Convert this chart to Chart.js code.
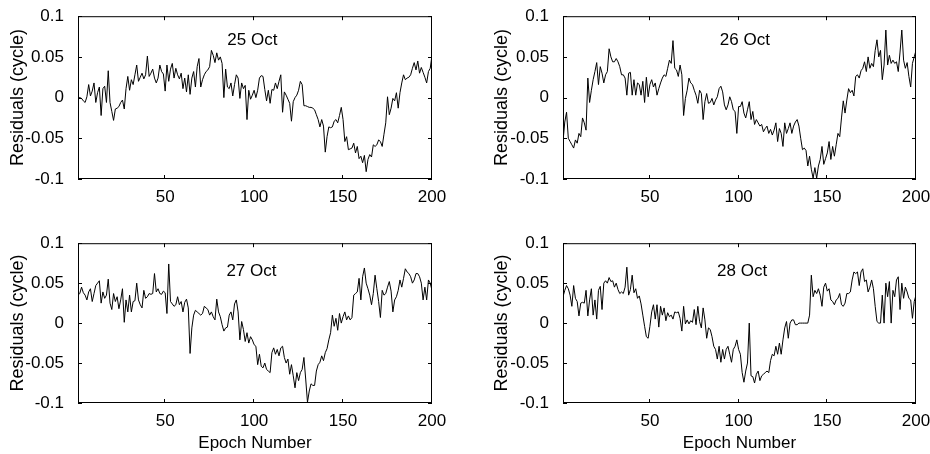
<!DOCTYPE html>
<html>
<head>
<meta charset="utf-8">
<script src="https://cdn.jsdelivr.net/npm/chart.js@4.4.1/dist/chart.umd.min.js"></script>
<style>
  html, body { margin: 0; padding: 0; background: #fff; overflow: hidden; }
  body { width: 930px; height: 454px; position: relative; }
  canvas { position: absolute; }
</style>
</head>
<body>
<canvas id="c25" width="465" height="227" style="left:0px;top:0px"></canvas>
<canvas id="c26" width="480" height="227" style="left:465px;top:0px"></canvas>
<canvas id="c27" width="465" height="227" style="left:0px;top:227px"></canvas>
<canvas id="c28" width="480" height="227" style="left:465px;top:227px"></canvas>
<script>
const epochs = Array.from({length: 200}, (_, i) => i + 1);
const xTicks = [50, 100, 150, 200];
const yTicks = [-0.1, -0.05, 0, 0.05, 0.1];

// residuals, one value per epoch
const oct25 = [
  0.001, 0.0, -0.001, -0.004, -0.006, 0.001, 0.016, 0.002, 0.008, 0.018,
  -0.006, 0.006, 0.013, -0.022, 0.011, 0.014, -0.006, 0.033, -0.006, -0.017,
  -0.028, -0.014, -0.013, -0.011, -0.006, -0.003, -0.014, 0.011, 0.026, 0.009,
  0.022, 0.016, 0.028, 0.04, 0.02, 0.025, 0.03, 0.023, 0.028, 0.051,
  0.026, 0.03, 0.035, 0.024, 0.018, 0.024, 0.04, 0.032, 0.029, 0.008,
  0.04, 0.02, 0.035, 0.042, 0.024, 0.036, 0.028, 0.023, 0.03, 0.011,
  0.024, 0.007, 0.028, 0.004, 0.024, 0.032, 0.013, 0.038, 0.048, 0.013,
  0.022, 0.028, 0.032, 0.034, 0.038, 0.058, 0.052, 0.043, 0.055, 0.046,
  0.05, 0.042, 0.0, 0.035, 0.013, 0.011, 0.018, 0.002, 0.016, 0.028,
  0.024, -0.001, 0.018, 0.011, 0.015, -0.027, 0.009, -0.002, 0.003, 0.009,
  0.0, 0.009, 0.024, 0.027, 0.026, 0.01, -0.004, 0.009, -0.007, 0.01,
  0.009, 0.018, 0.011, 0.02, 0.028, -0.018, 0.007, 0.003, -0.002, -0.007,
  -0.029, -0.005, 0.0, 0.003, 0.009, 0.02, 0.016, -0.01, -0.01, -0.011,
  -0.012, -0.012, -0.013, -0.015, -0.021, -0.027, -0.036, -0.027, -0.035, -0.067,
  -0.048, -0.036, -0.037, -0.036, -0.029, -0.027, -0.031, -0.022, -0.012, -0.027,
  -0.054, -0.048, -0.064, -0.063, -0.062, -0.056, -0.068, -0.06, -0.075, -0.072,
  -0.08, -0.071, -0.091, -0.076, -0.07, -0.073, -0.058, -0.06, -0.058, -0.052,
  -0.054, -0.06, -0.045, -0.031, 0.001, -0.021, -0.013, -0.001, -0.004, 0.006,
  -0.013, 0.006, 0.018, 0.028, 0.022, 0.024, 0.025, 0.028, 0.036, 0.043,
  0.034, 0.045, 0.03, 0.037, 0.031, 0.025, 0.018, 0.032, 0.036, 0.052
];
const oct26 = [
  -0.054, -0.03, -0.018, -0.05, -0.054, -0.058, -0.062, -0.052, -0.056, -0.044,
  -0.048, -0.025, -0.031, -0.04, 0.024, -0.006, 0.009, 0.022, 0.032, 0.043,
  0.016, 0.038, 0.03, 0.018, 0.028, 0.032, 0.06, 0.05, 0.044, 0.044,
  0.048, 0.044, 0.038, 0.028, 0.028, 0.024, 0.003, 0.03, 0.031, 0.003,
  0.022, 0.003, 0.018, 0.016, 0.003, 0.02, -0.006, 0.025, 0.001, 0.016,
  0.022, 0.013, 0.018, 0.003, 0.011, 0.018, 0.024, 0.028, 0.026, 0.036,
  0.046, 0.042, 0.07, 0.036, 0.034, 0.026, 0.04, 0.028, -0.022, -0.001,
  0.009, 0.024, 0.018, 0.016, 0.009, 0.003, -0.007, 0.009, 0.005, -0.027,
  -0.005, 0.005, -0.007, -0.006, -0.001, -0.009, -0.003, 0.001, 0.011, 0.014,
  0.007, -0.009, -0.015, -0.009, 0.001, -0.005, -0.015, -0.017, -0.044, -0.011,
  -0.011, -0.005, -0.019, -0.025, -0.015, -0.005, -0.027, -0.017, -0.033, -0.027,
  -0.031, -0.035, -0.033, -0.042, -0.038, -0.035, -0.044, -0.039, -0.046, -0.04,
  -0.031, -0.054, -0.038, -0.044, -0.06, -0.031, -0.044, -0.038, -0.031, -0.044,
  -0.035, -0.03, -0.027, -0.035, -0.05, -0.064, -0.062, -0.065, -0.084, -0.072,
  -0.088, -0.099, -0.086, -0.099, -0.084, -0.076, -0.06, -0.082, -0.075, -0.068,
  -0.054, -0.076, -0.06, -0.072, -0.058, -0.044, -0.048, -0.025, -0.004, -0.019,
  -0.003, 0.011, 0.006, 0.009, 0.002, 0.026, 0.028, 0.024, 0.033, 0.036,
  0.044, 0.032, 0.05, 0.036, 0.042, 0.038, 0.058, 0.071, 0.05, 0.058,
  0.022, 0.04, 0.083, 0.04, 0.052, 0.042, 0.046, 0.042, 0.044, 0.032,
  0.056, 0.083, 0.046, 0.036, 0.043, 0.026, 0.013, 0.042, 0.05, 0.058
];
const oct27 = [
  0.035, 0.037, 0.045, 0.038, 0.035, 0.029, 0.039, 0.043, 0.027, 0.037,
  0.047, 0.05, 0.053, 0.025, 0.039, 0.031, 0.035, 0.055, 0.025, 0.017,
  0.037, 0.027, 0.033, 0.018, 0.029, 0.043, 0.001, 0.029, 0.014, 0.035,
  0.014, 0.027, 0.028, 0.05, 0.029, 0.023, 0.019, 0.041, 0.031, 0.033,
  0.037, 0.036, 0.037, 0.062, 0.039, 0.043, 0.037, 0.036, 0.04, 0.038,
  0.012, 0.074, 0.027, 0.024, 0.021, 0.023, 0.033, 0.023, 0.027, 0.014,
  0.026, 0.03, 0.019, -0.038, -0.006, 0.01, 0.016, 0.014, 0.012, 0.01,
  0.012, 0.021, 0.019, 0.017, 0.01, 0.014, 0.008, 0.004, 0.03, 0.014,
  0.008, -0.002, -0.01, -0.006, -0.005, 0.01, 0.014, 0.004, 0.024, 0.029,
  0.014, -0.021, 0.002, -0.008, -0.023, -0.012, -0.025, -0.017, -0.021, -0.027,
  -0.029, -0.052, -0.039, -0.054, -0.056, -0.05, -0.058, -0.06, -0.062, -0.037,
  -0.031, -0.039, -0.033, -0.041, -0.031, -0.029, -0.043, -0.05, -0.045, -0.064,
  -0.052, -0.066, -0.081, -0.062, -0.072, -0.062, -0.058, -0.043, -0.07, -0.099,
  -0.085, -0.076, -0.078, -0.078, -0.06, -0.052, -0.049, -0.041, -0.047, -0.037,
  -0.032, -0.021, -0.012, 0.01, -0.004, 0.006, -0.009, 0.012, 0.0, 0.008,
  0.014, 0.004, 0.009, 0.004, 0.007, 0.035, 0.037, 0.039, 0.056, 0.029,
  0.058, 0.069, 0.05, 0.043, 0.035, 0.023, 0.037, 0.06, 0.043, 0.027,
  0.007, 0.041, 0.035, 0.037, 0.045, 0.052, 0.04, 0.014, 0.029, 0.033,
  0.041, 0.054, 0.045, 0.056, 0.068, 0.064, 0.062, 0.058, 0.05, 0.054,
  0.062, 0.062, 0.058, 0.05, 0.029, 0.045, 0.029, 0.054, 0.05, 0.041
];
const oct28 = [
  0.033, 0.041, 0.047, 0.043, 0.035, 0.021, 0.047, 0.031, 0.027, 0.009,
  0.025, 0.026, 0.025, 0.041, 0.009, 0.029, 0.043, 0.01, 0.029, 0.005,
  0.041, 0.046, 0.017, 0.05, 0.053, 0.05, 0.057, 0.052, 0.053, 0.045,
  0.05, 0.042, 0.037, 0.039, 0.037, 0.045, 0.07, 0.035, 0.042, 0.06,
  0.038, 0.043, 0.031, 0.034, 0.024, 0.01, -0.004, -0.017, -0.019, -0.004,
  0.014, 0.023, 0.005, 0.023, -0.005, 0.021, 0.01, 0.019, 0.003, 0.013,
  0.008, 0.01, 0.005, 0.014, 0.013, 0.014, 0.006, -0.01, 0.021, -0.001,
  0.004, -0.001, 0.003, 0.001, 0.017, -0.002, 0.021, 0.002, -0.006, 0.019,
  0.004, -0.019, -0.006, -0.008, -0.017, -0.029, -0.033, -0.045, -0.029, -0.049,
  -0.033, -0.045, -0.033, -0.029, -0.039, -0.049, -0.033, -0.029, -0.021, -0.033,
  -0.039, -0.062, -0.074, -0.06, -0.05, 0.0, -0.066, -0.067, -0.075, -0.064,
  -0.06, -0.072, -0.066, -0.064, -0.062, -0.06, -0.062, -0.047, -0.039, -0.041,
  -0.029, -0.039, -0.025, -0.039, -0.021, -0.006, 0.002, -0.019, 0.0, 0.004,
  0.004, -0.002, -0.002, 0.0, 0.0, 0.0, 0.0, 0.0, 0.0, 0.01,
  0.06, 0.033, 0.041, 0.037, 0.043, 0.035, 0.021, 0.045, 0.05, 0.04,
  0.043, 0.029, 0.027, 0.023, 0.029, 0.031, 0.037, 0.023, 0.021, 0.025,
  0.037, 0.037, 0.039, 0.054, 0.064, 0.062, 0.064, 0.047, 0.064, 0.068,
  0.052, 0.054, 0.039, 0.045, 0.054, 0.043, 0.021, 0.002, 0.0, 0.0,
  0.035, 0.0, 0.05, 0.033, 0.052, 0.0, 0.041, 0.033, 0.054, 0.058,
  0.017, 0.05, 0.031, 0.045, 0.039, 0.031, 0.029, 0.006, 0.027, 0.035
];

Chart.defaults.font.family = '"Liberation Sans", Arial, Helvetica, sans-serif';
Chart.defaults.color = '#000';

// box round the plot, MATLAB style inward ticks, and the day label
const frame = {
  id: 'frame',
  afterDraw(chart, args, opts) {
    const {ctx, chartArea: a, scales: {x, y}} = chart;
    ctx.save();
    ctx.strokeStyle = '#000';
    ctx.lineWidth = 1;
    ctx.strokeRect(a.left + 0.5, a.top + 0.5, a.width - 1, a.height - 1);
    ctx.beginPath();
    xTicks.forEach(v => {
      const px = Math.round(x.getPixelForValue(v)) - 0.5;
      ctx.moveTo(px, a.bottom); ctx.lineTo(px, a.bottom - 4);
      ctx.moveTo(px, a.top); ctx.lineTo(px, a.top + 4);
    });
    yTicks.forEach(v => {
      const py = Math.round(y.getPixelForValue(v)) + 0.5;
      ctx.moveTo(a.left, py); ctx.lineTo(a.left + 4, py);
      ctx.moveTo(a.right, py); ctx.lineTo(a.right - 4, py);
    });
    ctx.stroke();
    ctx.fillStyle = '#000';
    ctx.font = '17px "Liberation Sans", Arial, sans-serif';
    ctx.textAlign = 'center';
    ctx.textBaseline = 'middle';
    ctx.fillText(opts.text, x.getPixelForValue(opts.at), a.top + opts.dy);
    ctx.restore();
  }
};

const panels = [
  {id: 'c25', text: '25 Oct', values: oct25, at: 99, dy: 24.5, axisW: 78, padR: 33, padT: 15, xH: 48, xTitle: false, yTitlePad: 7},
  {id: 'c26', text: '26 Oct', values: oct26, at: 103.5, dy: 24.5, axisW: 98, padR: 29, padT: 15, xH: 48, xTitle: false, yTitlePad: 26},
  {id: 'c27', text: '27 Oct', values: oct27, at: 98.5, dy: 28, axisW: 78, padR: 33, padT: 13, xH: 51, xTitle: true, yTitlePad: 7},
  {id: 'c28', text: '28 Oct', values: oct28, at: 102, dy: 28, axisW: 98, padR: 29, padT: 13, xH: 51, xTitle: true, yTitlePad: 26}
];

panels.forEach(p => {
  new Chart(document.getElementById(p.id), {
    type: 'line',
    data: {
      datasets: [{
        data: epochs.map((e, i) => ({x: e, y: p.values[i]})),
        borderColor: '#000',
        borderWidth: 1,
        pointRadius: 0,
        tension: 0,
        fill: false
      }]
    },
    options: {
      responsive: false,
      animation: false,
      devicePixelRatio: 1,
      layout: {padding: {top: p.padT, right: p.padR, left: 0, bottom: 0}},
      plugins: {
        legend: {display: false},
        tooltip: {enabled: false},
        frame: {text: p.text, at: p.at, dy: p.dy}
      },
      scales: {
        x: {
          type: 'linear',
          min: 1,
          max: 200,
          grid: {display: false},
          border: {display: false},
          afterBuildTicks: s => { s.ticks = xTicks.map(v => ({value: v})); },
          afterFit: s => { s.height = p.xH; },
          ticks: {font: {size: 17}, padding: 0, maxRotation: 0, callback: v => String(v)},
          title: {
            display: p.xTitle,
            text: 'Epoch Number',
            font: {size: 17},
            padding: {top: 0, bottom: 0}
          }
        },
        y: {
          min: -0.1,
          max: 0.1,
          grid: {display: false},
          border: {display: false},
          afterBuildTicks: s => { s.ticks = yTicks.map(v => ({value: v})); },
          afterFit: s => { s.width = p.axisW; },
          ticks: {font: {size: 17}, padding: 6, callback: v => String(v)},
          title: {
            display: true,
            text: 'Residuals (cycle)',
            font: {size: 18},
            padding: {top: p.yTitlePad, bottom: 0}
          }
        }
      }
    },
    plugins: [frame]
  });
});
</script>
</body>
</html>
